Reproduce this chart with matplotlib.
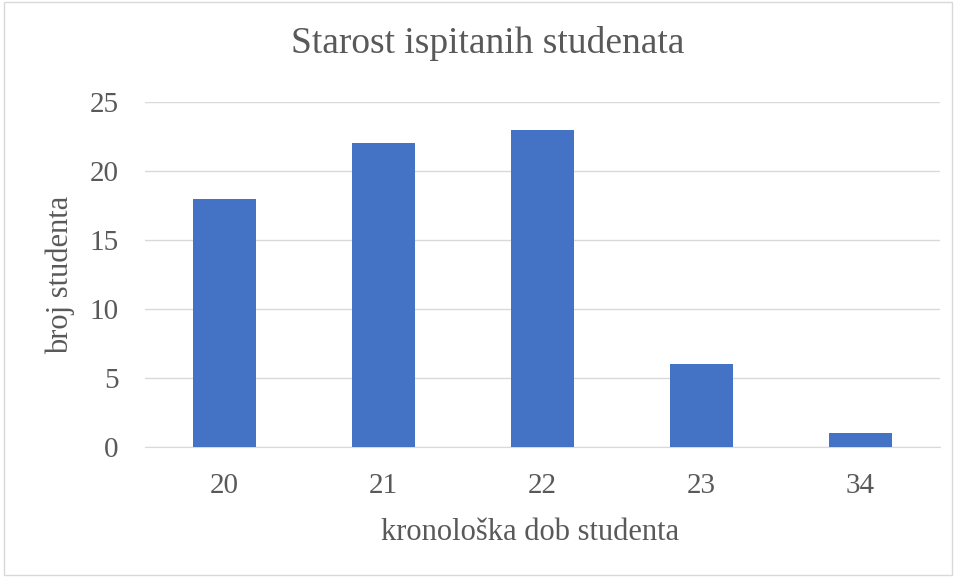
import numpy as np
import matplotlib.pyplot as plt
from matplotlib.patches import Rectangle

# data
ages = ['20', '21', '22', '23', '34']
counts = [18, 22, 23, 6, 1]

txt = '#595959'
plt.rcParams['font.family'] = ['Liberation Serif', 'DejaVu Serif']

fig = plt.figure(figsize=(9.56, 5.77), dpi=100)
ax = fig.add_axes([0.1517, 0.2253, 0.8316, 0.5979])

x = np.arange(len(ages))
ax.bar(x, counts, width=0.4, color='#4472C4', zorder=3)

ax.set_xlim(-0.5, len(ages) - 0.5)
ax.set_ylim(0, 25)
ax.set_yticks(np.arange(0, 26, 5))
ax.set_xticks(x)
ax.set_xticklabels(ages)
ax.grid(axis='y', color='#d9d9d9', linewidth=1, zorder=0)
for s in ['top', 'right', 'left']:
    ax.spines[s].set_visible(False)
ax.spines['bottom'].set_color('#d9d9d9')
ax.tick_params(axis='both', length=0, labelsize=21, colors=txt)
ax.tick_params(axis='x', pad=19)
ax.tick_params(axis='y', pad=19)

# titles placed on the figure
fig.text(0.51, 0.908, 'Starost ispitanih studenata', fontsize=27, color=txt,
         ha='center', va='baseline')
fig.text(0.554, 0.064, 'kronološka dob studenta', fontsize=22, color=txt,
         ha='center', va='baseline')
fig.text(0.063, 0.523, 'broj studenta', fontsize=22, color=txt,
         ha='center', va='center', rotation=90)

fig.patches.append(Rectangle((0.004, 0.004), 0.992, 0.992, transform=fig.transFigure,
                             fill=False, edgecolor='#d9d9d9', linewidth=1))

fig.savefig('out.png', dpi=100)
